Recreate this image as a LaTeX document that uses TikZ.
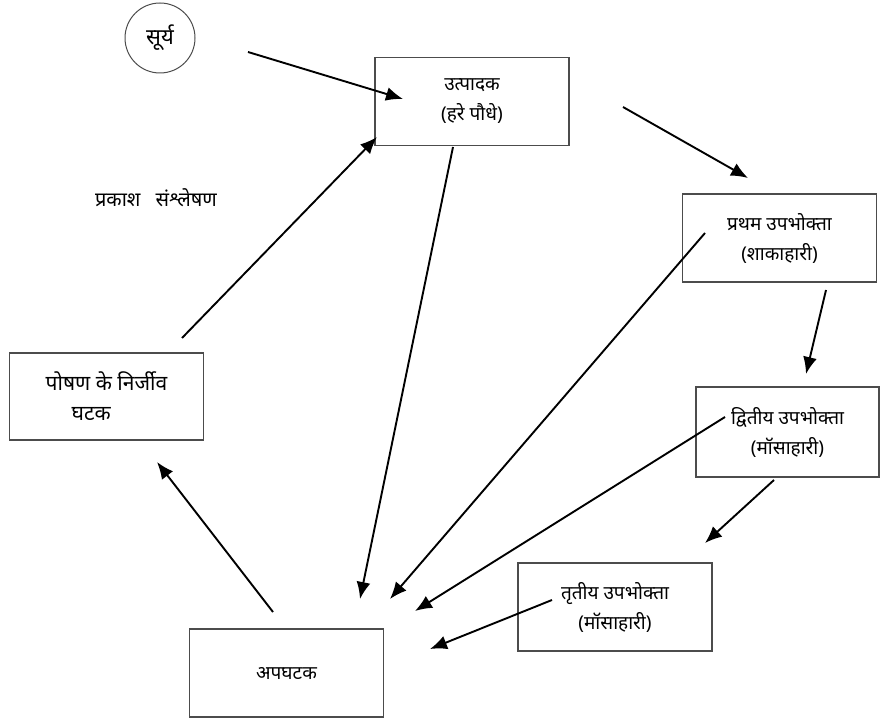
\documentclass[tikz,border=0pt]{standalone}
\usepackage{fontspec}
\usepackage{tikz}
\usetikzlibrary{arrows.meta}
\newfontfamily\deva[Script=Devanagari]{Noto Sans}

\tikzset{
    box/.style={draw=gray!60!black,line width=1.4pt,minimum width=194pt,minimum height=88pt,align=center,font=\deva\fontsize{19}{30}\selectfont},
    flow/.style={line width=1.9pt,black,-{Latex[length=17pt,width=14pt]}}
}

\begin{document}
\begin{tikzpicture}[x=1pt,y=-1pt]
    \useasboundingbox (0,0) rectangle (880,719);

    \node [draw=gray!60!black,line width=1pt,circle,minimum size=70pt,font=\deva\fontsize{22}{22}\selectfont] (sun) at (160,38) {सूर्य};
    \node [box] (prod) at (472,101.5) {उत्पादक\\(हरे पौधे)};
    \node [box] (prim) at (779.5,238) {प्रथम उपभोक्ता\\(शाकाहारी)};
    \node [box,minimum width=183pt,minimum height=90pt] (sec) at (787.5,432) {द्वितीय उपभोक्ता\\(मॉसाहारी)};
    \node [box] (tert) at (615,607) {तृतीय उपभोक्ता\\(मॉसाहारी)};
    \node [box] (decomp) at (286.5,673) {अपघटक};
    \node [box,align=left,minimum height=87pt,font=\deva\fontsize{21}{30}\selectfont] (nonliv) at (106.5,396.5) {पोषण के निर्जीव\\\hspace*{26pt}घटक};
    \node [font=\deva\fontsize{20}{20}\selectfont] (photo) at (156,198) {प्रकाश\hspace{0.75em}संश्लेषण};

    % arrow ends
    \coordinate (ray) at (248,52);
    \coordinate (prod-in) at (403,99);
    \coordinate (prod-out) at (623,107);
    \coordinate (prim-in) at (748,178);
    \coordinate (prim-out) at (826,290);
    \coordinate (sec-in) at (806,374);
    \coordinate (sec-out) at (774,480);
    \coordinate (tert-in) at (705,543);
    \coordinate (prod-down) at (453,147);
    \coordinate (prim-down) at (705,233);
    \coordinate (sec-down) at (725,417);
    \coordinate (tert-down) at (552,600);
    \coordinate (decomp-a) at (360,599);
    \coordinate (decomp-b) at (390,599);
    \coordinate (decomp-c) at (415,611);
    \coordinate (decomp-d) at (430,649);
    \coordinate (decomp-out) at (273,612);
    \coordinate (nonliv-in) at (157,462);
    \coordinate (nonliv-out) at (182,338);
    \coordinate (prod-back) at (377,137);

    \draw [flow] (ray) -- (prod-in);
    \draw [flow] (prod-out) -- (prim-in);
    \draw [flow] (prim-out) -- (sec-in);
    \draw [flow] (sec-out) -- (tert-in);

    \draw [flow] (prod-down) -- (decomp-a);
    \draw [flow] (prim-down) -- (decomp-b);
    \draw [flow] (sec-down) -- (decomp-c);
    \draw [flow] (tert-down) -- (decomp-d);

    \draw [flow] (decomp-out) -- (nonliv-in);
    \draw [flow] (nonliv-out) -- (prod-back);
\end{tikzpicture}
\end{document}
